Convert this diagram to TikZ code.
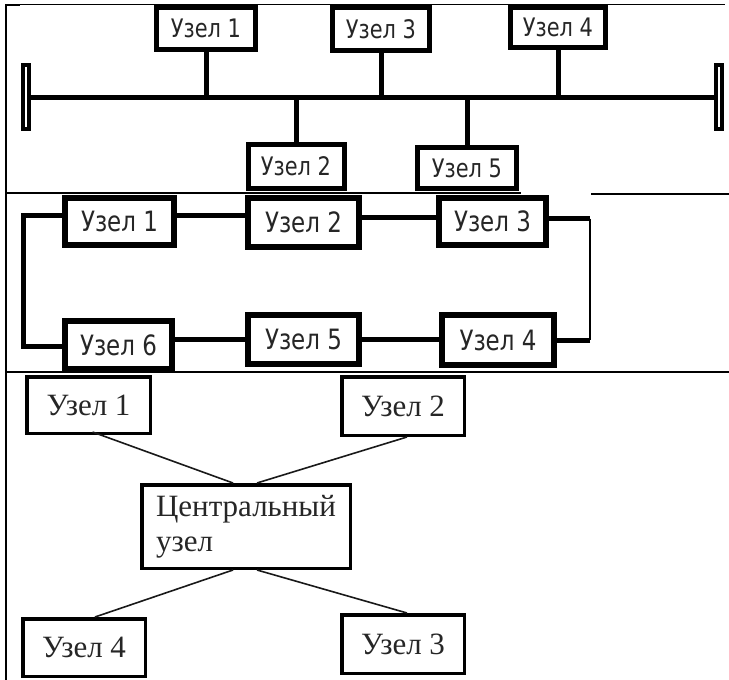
\documentclass[tikz,border=0pt]{standalone}
\usepackage{fontspec}
\setmainfont{Liberation Serif}
\newfontfamily\gostfont[FakeStretch=0.82]{DejaVu Sans}
\begin{document}
\begin{tikzpicture}[x=1pt,y=-1pt,
  rule/.style={line width=1.3pt},
  busbox/.style={draw, line width=5pt, fill=white, inner sep=0pt,
    font=\gostfont\fontsize{25.5}{28}\selectfont, text=black!85},
  term/.style={draw, line width=4pt, fill=white, inner sep=0pt,
    minimum width=6pt, minimum height=64pt},
  bus/.style={line width=5pt},
  ringbox/.style={draw, line width=6pt, fill=white, inner sep=0pt,
    font=\gostfont\fontsize{28}{31}\selectfont, text=black!85},
  ring/.style={line width=5pt},
  ringthin/.style={line width=2pt},
  starbox/.style={draw, line width=3.5pt, fill=white, inner sep=0pt,
    font=\fontsize{31}{35}\selectfont, text=black!85},
  star/.style={line width=1.6pt, black!90}]
\useasboundingbox (0,0) rectangle (729,680);

% table frame and dividers
\draw[rule] (6,4) -- (6,680);
\draw[rule] (5,4.5) -- (725,4.5);
\draw[line width=2.5pt] (6,5) -- (20,5);
\draw[rule] (5,193) -- (521,193);
\draw[line width=2pt] (591,193.5) -- (729,193.5);
\draw[line width=2.5pt] (6,193) -- (20,193);
\draw[rule] (5,372) -- (591,372);
\draw[line width=2pt] (591,371.5) -- (729,371.5);
\draw[line width=2.5pt] (6,372) -- (20,372);

% ---- bus topology ----
\node[term] (tl) at (26,97) {};
\node[term] (tr) at (719,97) {};
\draw[bus] (tl.east) -- (tr.west);
\node[busbox, minimum width=99pt, minimum height=42pt] (b1) at (206,28.5) {Узел 1};
\node[busbox, minimum width=97pt, minimum height=43pt] (b3) at (381,29) {Узел 3};
\node[busbox, minimum width=95pt, minimum height=40pt] (b4) at (558,27.5) {Узел 4};
\node[busbox, minimum width=96pt, minimum height=44pt] (b2) at (296,166.5) {Узел 2};
\node[busbox, minimum width=99pt, minimum height=41pt] (b5) at (467,168) {Узел 5};
\draw[bus] (b1.south) -- (b1.south |- tl.east);
\draw[bus] (b3.south) -- (b3.south |- tl.east);
\draw[bus] (b4.south) -- (b4.south |- tl.east);
\draw[bus] (b2.north) -- (b2.north |- tl.east);
\draw[bus] (b5.north) -- (b5.north |- tl.east);

% ---- ring topology ----
\coordinate (lring) at (23,0);
\coordinate (rring) at (590,0);
\node[ringbox, minimum width=109pt, minimum height=47pt] (r1) at (119.5,221.5) {Узел 1};
\node[ringbox, minimum width=111pt, minimum height=49pt] (r2) at (303.5,222.5) {Узел 2};
\node[ringbox, minimum width=107pt, minimum height=47pt] (r3) at (492.5,221.5) {Узел 3};
\node[ringbox, minimum width=107pt, minimum height=48pt] (r6) at (118.5,345) {Узел 6};
\node[ringbox, minimum width=111pt, minimum height=49pt] (r5) at (303.5,339.5) {Узел 5};
\node[ringbox, minimum width=112pt, minimum height=50pt] (r4) at (498,340) {Узел 4};
\draw[ring] ([yshift=6pt]r1.east) -- ([yshift=6pt]r1.east -| r2.west);
\draw[ring] ([yshift=5pt]r2.east) -- ([yshift=5pt]r2.east -| r3.west);
\draw[ring] ([yshift=6pt]r1.west) -- ([yshift=6pt]r1.west -| lring)
  |- ([yshift=-1pt]r6.west);
\draw[ring] ([yshift=3pt]r3.east) -- ([yshift=3pt]r3.east -| rring);
\draw[ringthin] ([yshift=3pt]r3.east -| rring) -- (r4.east -| rring);
\draw[ring] (r4.east -| rring) -- (r4.east);
\draw[ring] (r5.west -| r6.east) -- (r5.west);
\draw[ring] (r5.east) -- (r5.east -| r4.west);

% ---- star topology ----
\node[starbox, minimum width=123.5pt, minimum height=56.5pt] (s1) at (88.5,405) {Узел 1};
\node[starbox, minimum width=122.5pt, minimum height=58.5pt] (s2) at (403,406) {Узел 2};
\node[starbox, minimum width=208.5pt, minimum height=83.5pt, align=left]
  (sc) at (246,526.5) {Центральный\\узел};
\node[starbox, minimum width=122.5pt, minimum height=57.5pt] (s4) at (84,647.5) {Узел 4};
\node[starbox, minimum width=122.5pt, minimum height=58.5pt] (s3) at (403,644) {Узел 3};
\draw[star] ([xshift=4pt,yshift=3pt]s1.south) -- ([xshift=-13pt]sc.north);
\draw[star] ([xshift=4pt]s2.south) -- ([xshift=11pt]sc.north);
\draw[star] ([xshift=-13pt]sc.south) -- ([xshift=11pt]s4.north);
\draw[star] ([xshift=11pt]sc.south) -- ([xshift=4pt]s3.north);
\end{tikzpicture}
\end{document}
